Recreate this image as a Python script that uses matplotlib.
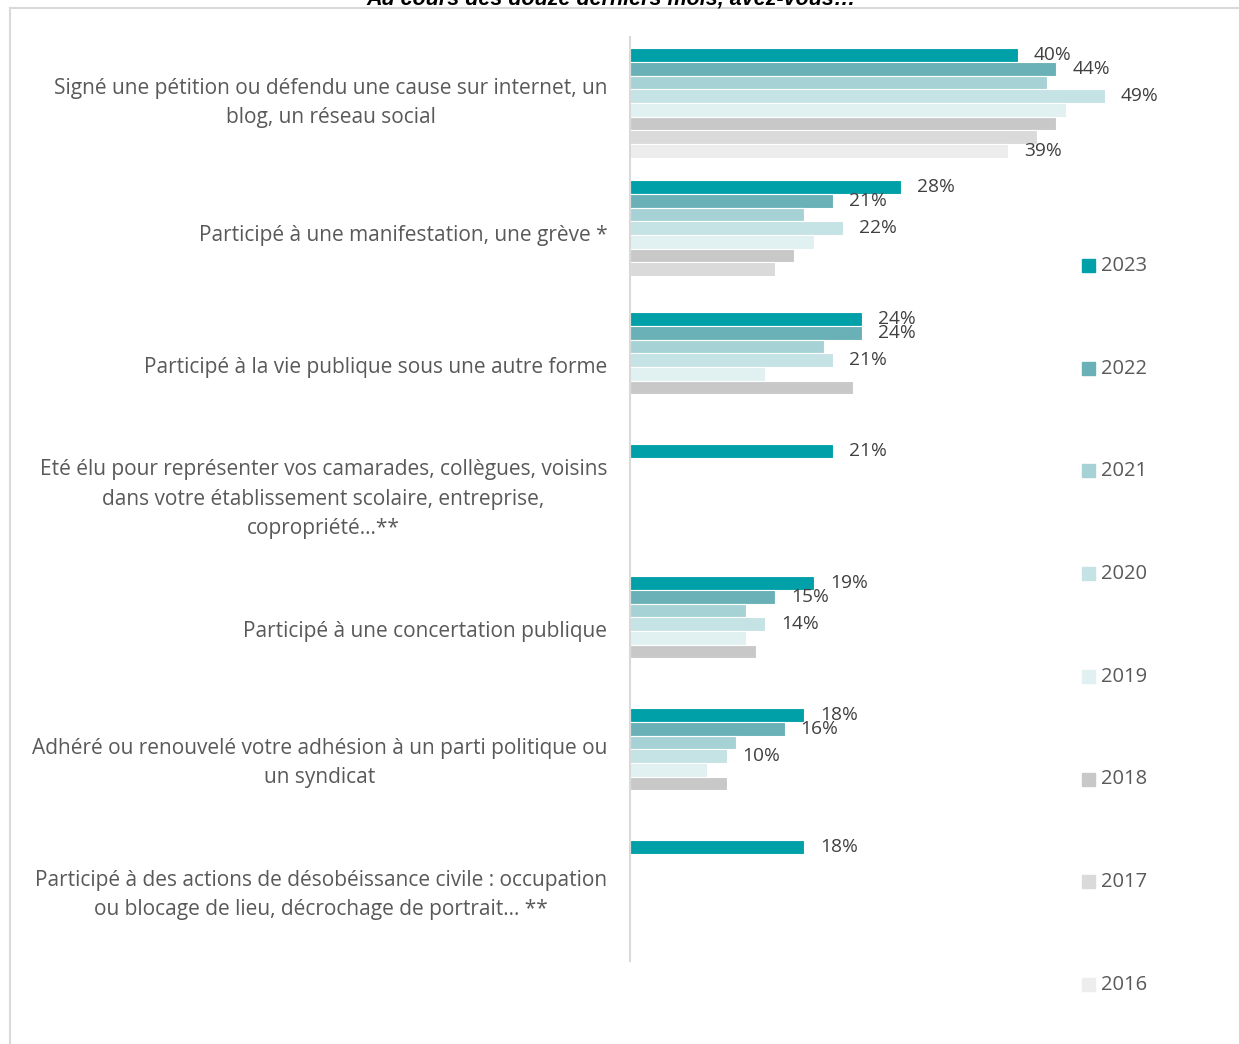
import matplotlib
matplotlib.use("Agg")
import matplotlib.pyplot as plt
from matplotlib.lines import Line2D
from matplotlib.patches import Rectangle
import numpy as np

nan = np.nan

categories = [
    "Signé une pétition ou défendu une cause sur internet, un\nblog, un réseau social",
    "Participé à une manifestation, une grève *",
    "Participé à la vie publique sous une autre forme",
    "Eté élu pour représenter vos camarades, collègues, voisins\ndans votre établissement scolaire, entreprise,\ncopropriété…**",
    "Participé à une concertation publique",
    "Adhéré ou renouvelé votre adhésion à un parti politique ou\nun syndicat",
    "Participé à des actions de désobéissance civile : occupation\nou blocage de lieu, décrochage de portrait… **",
]

years = ["2023", "2022", "2021", "2020", "2019", "2018", "2017", "2016"]

v2023 = [40, 28, 24, 21, 19, 18, 18]
v2022 = [44, 21, 24, nan, 15, 16, nan]
v2021 = [43, 18, 20, nan, 12, 11, nan]
v2020 = [49, 22, 21, nan, 14, 10, nan]
v2019 = [45, 19, 14, nan, 12, 8, nan]
v2018 = [44, 17, 23, nan, 13, 10, nan]
v2017 = [42, 15, nan, nan, nan, nan, nan]
v2016 = [39, nan, nan, nan, nan, nan, nan]
series = [v2023, v2022, v2021, v2020, v2019, v2018, v2017, v2016]

labeled_years = ["2023", "2022", "2020", "2016"]

colors = ["#00A0A8", "#69B1B7", "#A6D2D5", "#C5E2E4", "#E1F0F1",
          "#C8C8C8", "#DADADA", "#EDEDED"]

title = "Au cours des douze derniers mois, avez-vous…"

W, H = 1239, 1044
fig = plt.figure(figsize=(W / 100, H / 100), dpi=100)
fig.patch.set_facecolor("white")


def fx(px):
    return px / W


def fy(py):
    return 1 - py / H


FONT = "Open Sans"
TXT = "#595959"

# frame around the chart
fig.add_artist(Line2D([fx(10), fx(W + 5)], [fy(8), fy(8)], color="#D9D9D9", lw=1.5,
                      transform=fig.transFigure))
fig.add_artist(Line2D([fx(10), fx(10)], [fy(8), fy(H + 5)], color="#D9D9D9", lw=1.5,
                      transform=fig.transFigure))

# title at the very top (partly clipped, as in the source)
fig.text(fx(611), fy(4), title, ha="center", va="baseline", fontsize=15.5,
         style="italic", weight="bold", color="black", family="Liberation Sans")

xmax = 55
ax = fig.add_axes([fx(629.5), fy(961), (9.7 * xmax) / W, 924 / H])
bh = 0.1038
n = len(years)
for j, (yr, vals, col) in enumerate(zip(years, series, colors)):
    vals = np.array(vals, dtype=float)
    pos = np.arange(len(categories)) + (j - (n - 1) / 2) * bh
    m = ~np.isnan(vals)
    ax.barh(pos[m], vals[m], height=bh, color=col, edgecolor="white", linewidth=0.8)
    if yr in labeled_years:
        for p, v in zip(pos[m], vals[m]):
            ax.annotate(f"{v:.0f}%", xy=(v, p), xytext=(11.5, 0),
                        textcoords="offset points", ha="left", va="center",
                        fontsize=13.8, color="#404040", family=FONT)

ax.set_xlim(0, xmax)
ax.set_ylim(len(categories) - 0.5, -0.5)
ax.set_xticks([])
ax.set_yticks(np.arange(len(categories)))
ax.set_yticklabels(categories, fontsize=15, color=TXT, family=FONT,
                   multialignment="center", linespacing=1.55, va="center")
ax.tick_params(axis="y", length=0, pad=16)
for s in ["top", "right", "bottom"]:
    ax.spines[s].set_visible(False)
ax.spines["left"].set_color("#D9D9D9")
ax.spines["left"].set_linewidth(1.5)
ax.set_facecolor("none")

# legend (vertical, spread out)
for k, (yr, col) in enumerate(zip(years, colors)):
    yc = 266 + k * 102.7
    fig.add_artist(Rectangle((fx(1082), fy(yc + 6)), 13 / W, 13 / H, color=col,
                             transform=fig.transFigure))
    fig.text(fx(1101), fy(yc), yr, ha="left", va="center", fontsize=14.5,
             color=TXT, family=FONT)

fig.savefig("out.png", dpi=100)
